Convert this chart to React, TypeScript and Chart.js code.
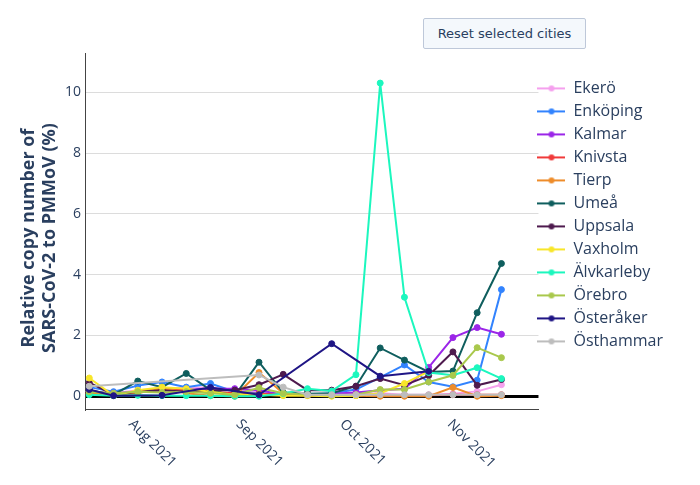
import React, { useEffect, useRef } from "react";
import { Chart, registerables } from "chart.js";

Chart.register(...registerables);

// ---- data ----
const dates = [
  "2021-07-20", "2021-07-27", "2021-08-03", "2021-08-10", "2021-08-17", "2021-08-24",
  "2021-08-31", "2021-09-07", "2021-09-14", "2021-09-21", "2021-09-28", "2021-10-05",
  "2021-10-12", "2021-10-19", "2021-10-26", "2021-11-02", "2021-11-09", "2021-11-16",
];
const monthTicks = ["2021-08-01", "2021-09-01", "2021-10-01", "2021-11-01"];
const monthLabels = ["Aug 2021", "Sep 2021", "Oct 2021", "Nov 2021"];
const yTicks = [0, 2, 4, 6, 8, 10];

const cities = [
  "Ekerö", "Enköping", "Kalmar", "Knivsta", "Tierp", "Umeå",
  "Uppsala", "Vaxholm", "Älvkarleby", "Örebro", "Österåker", "Östhammar",
];

const ekero = [0.15, 0.1, 0.2, 0.25, 0.28, 0.3, 0.2, 0.15, 0.05, 0.03, 0.05, 0.08, 0.1, 0.05, 0.05, 0.08, 0.16, 0.38];
const enkoping = [0.3, 0.15, 0.35, 0.47, 0.3, 0.42, 0.15, 0.1, 0.05, 0.05, 0.1, 0.22, 0.62, 1.03, 0.47, 0.31, 0.53, 3.51];
const kalmar = [0.15, 0.1, 0.15, 0.2, 0.22, 0.25, 0.25, 0.2, 0.05, 0.05, 0.08, 0.12, 0.2, 0.25, 0.95, 1.93, 2.26, 2.04];
const knivsta = [0.1, 0.05, 0.15, 0.25, 0.2, 0.15, 0.1, 0.08, 0.05, 0.03, 0.03, 0.05, 0.05, 0.03, 0.03, 0.05, 0.05, 0.05];
const tierp = [0.1, 0.05, 0.1, 0.28, 0.1, 0.02, 0.0, 0.78, 0.1, 0.05, 0.02, 0.02, 0.0, 0.0, 0.0, 0.29, 0.0, 0.02];
const umea = [0.2, 0.05, 0.5, 0.3, 0.75, 0.2, 0.02, 1.12, 0.12, 0.08, 0.1, 0.33, 1.59, 1.19, 0.8, 0.83, 2.75, 4.37];
const uppsala = [0.45, 0.05, 0.15, 0.2, 0.15, 0.2, 0.2, 0.38, 0.72, 0.2, 0.2, 0.33, 0.58, 0.36, 0.68, 1.46, 0.36, 0.55];
const vaxholm = [0.6, 0.02, 0.2, 0.3, 0.25, 0.15, 0.05, 0.05, 0.02, 0.02, 0.0, 0.02, 0.1, 0.42, 0.82, null, null, null];
const alvkarleby = [0.05, 0.02, 0.03, 0.02, 0.02, 0.02, 0.0, 0.0, 0.09, 0.25, 0.17, 0.71, 10.31, 3.26, 0.78, 0.69, 0.94, 0.58];
const orebro = [0.15, 0.1, 0.15, 0.12, 0.15, 0.1, 0.05, 0.28, 0.1, 0.05, 0.03, 0.05, 0.22, 0.22, 0.47, 0.69, 1.6, 1.27];
const osteraker = [0.22, 0.02, null, 0.03, null, 0.29, null, 0.05, null, null, 1.73, null, 0.66, null, 0.82, null, null, null];
const osthammar = [0.33, null, null, null, null, null, null, 0.7, 0.3, 0.05, 0.05, 0.05, 0.05, 0.05, 0.05, 0.05, 0.05, 0.05];

const seriesValues = [ekero, enkoping, kalmar, knivsta, tierp, umea, uppsala, vaxholm, alvkarleby, orebro, osteraker, osthammar];

// ---- styles ----
const colors = [
  "#F5A0EE", "#3283FE", "#9B26E8", "#F03A3A", "#EE8C2A", "#0F5E5E",
  "#4E1A4E", "#F8E62A", "#1CF7BE", "#A9C84C", "#1F1585", "#BDBDBD",
];
const TEXT = "#2a3f5f";
const FONT = "'Open Sans', sans-serif";

const DAY = 86400000;
const origin = Date.parse("2021-07-01T00:00:00Z");
const dayNum = (s: string) => (Date.parse(s + "T00:00:00Z") - origin) / DAY;

function legendIcon(color: string) {
  const c = document.createElement("canvas");
  c.width = 28;
  c.height = 8;
  const g = c.getContext("2d")!;
  g.strokeStyle = color;
  g.lineWidth = 2;
  g.beginPath();
  g.moveTo(0, 4);
  g.lineTo(28, 4);
  g.stroke();
  g.fillStyle = color;
  g.beginPath();
  g.arc(14, 4, 3, 0, Math.PI * 2);
  g.fill();
  return c;
}

const xLabelPlugin = {
  id: "xLabels",
  afterDraw(chart: any) {
    const sc = chart.scales.x;
    const ctx = chart.ctx;
    ctx.save();
    ctx.font = `14px ${FONT}`;
    ctx.fillStyle = TEXT;
    ctx.textAlign = "left";
    ctx.textBaseline = "middle";
    sc.ticks.forEach((t: any, i: number) => {
      const x = sc.getPixelForValue(t.value);
      ctx.save();
      ctx.translate(x, sc.top + 13);
      ctx.rotate(Math.PI / 4);
      ctx.fillText(monthLabels[i], 0, 0);
      ctx.restore();
    });
    ctx.restore();
  },
};

const legendShiftPlugin = {
  id: "legendShift",
  afterLayout(chart: any) {
    if (chart.legend) {
      chart.legend.left -= 8;
      chart.legend.right -= 8;
    }
  },
};

export default function App() {
  const ref = useRef<HTMLCanvasElement>(null);

  useEffect(() => {
    Chart.defaults.font.family = FONT;
    const datasets = cities.map((name, i) => ({
      label: name,
      data: dates.map((d, j) => ({ x: dayNum(d), y: seriesValues[i][j] })),
      borderColor: colors[i],
      backgroundColor: colors[i],
      pointBackgroundColor: colors[i],
      pointBorderColor: colors[i],
      pointRadius: 3,
      pointBorderWidth: 1,
      borderWidth: 2,
      tension: 0,
      spanGaps: true,
      order: cities.length - 1 - i,
    }));

    const baseGen = (Chart.defaults.plugins.legend.labels as any).generateLabels;

    const chart = new Chart(ref.current!, {
      type: "line",
      data: { datasets } as any,
      plugins: [xLabelPlugin, legendShiftPlugin],
      options: {
        animation: false,
        responsive: true,
        maintainAspectRatio: false,
        layout: { padding: { top: 53, right: 19, bottom: 0, left: 0 } },
        plugins: {
          tooltip: { enabled: false },
          legend: {
            position: "right",
            align: "start",
            title: { display: true, text: "", padding: { top: 0, bottom: 6 }, font: { size: 12 } },
            labels: {
              usePointStyle: true,
              pointStyleWidth: 28,
              padding: 7,
              color: TEXT,
              font: { size: 16, family: FONT },
              generateLabels: (c: any) =>
                baseGen(c).map((l: any) => ({ ...l, pointStyle: legendIcon(colors[l.datasetIndex]) })),
              sort: (a: any, b: any) => a.datasetIndex - b.datasetIndex,
            },
          },
        },
        scales: {
          x: {
            type: "linear",
            min: dayNum(dates[0]) - 1.24,
            max: dayNum(dates[dates.length - 1]) + 10.7,
            grid: { display: false },
            border: { display: true, color: "#444", width: 1 },
            ticks: { display: false },
            afterBuildTicks: (s: any) => {
              s.ticks = monthTicks.map((m) => ({ value: dayNum(m) }));
            },
            afterFit: (s: any) => {
              s.height = 76;
            },
          },
          y: {
            type: "linear",
            min: -0.42,
            max: 11.3,
            afterBuildTicks: (s: any) => {
              s.ticks = yTicks.map((v) => ({ value: v }));
            },
            afterFit: (s: any) => {
              s.width = 85;
            },
            grid: {
              drawTicks: false,
              color: (c: any) => (c.tick && c.tick.value === 0 ? "#000" : "#dcdcdc"),
              lineWidth: (c: any) => (c.tick && c.tick.value === 0 ? 3 : 1),
            },
            border: { display: true, color: "#444", width: 1 },
            ticks: {
              padding: 4,
              color: TEXT,
              font: { size: 14, family: FONT },
              callback: (v: any) => String(v),
            },
            title: {
              display: true,
              text: ["Relative copy number of   ", "SARS-CoV-2 to PMMoV (%)   "],
              color: TEXT,
              font: { size: 18, weight: "bold", family: FONT, lineHeight: 1.15 },
              padding: { top: 19, bottom: 0 },
            },
          },
        },
      } as any,
    });
    return () => chart.destroy();
  }, []);

  return (
    <div style={{ position: "absolute", left: 0, top: 0, width: 700, height: 485, background: "#fff" }}>
      <canvas ref={ref} />
      <button
        style={{
          position: "absolute",
          left: 423,
          top: 18,
          width: 163,
          height: 31,
          background: "#F4F8FC",
          border: "1px solid #BEC8D9",
          borderRadius: 2,
          color: TEXT,
          fontFamily: "'DejaVu Sans', sans-serif",
          fontSize: 13,
          padding: 0,
        }}
      >
        Reset selected cities
      </button>
    </div>
  );
}
